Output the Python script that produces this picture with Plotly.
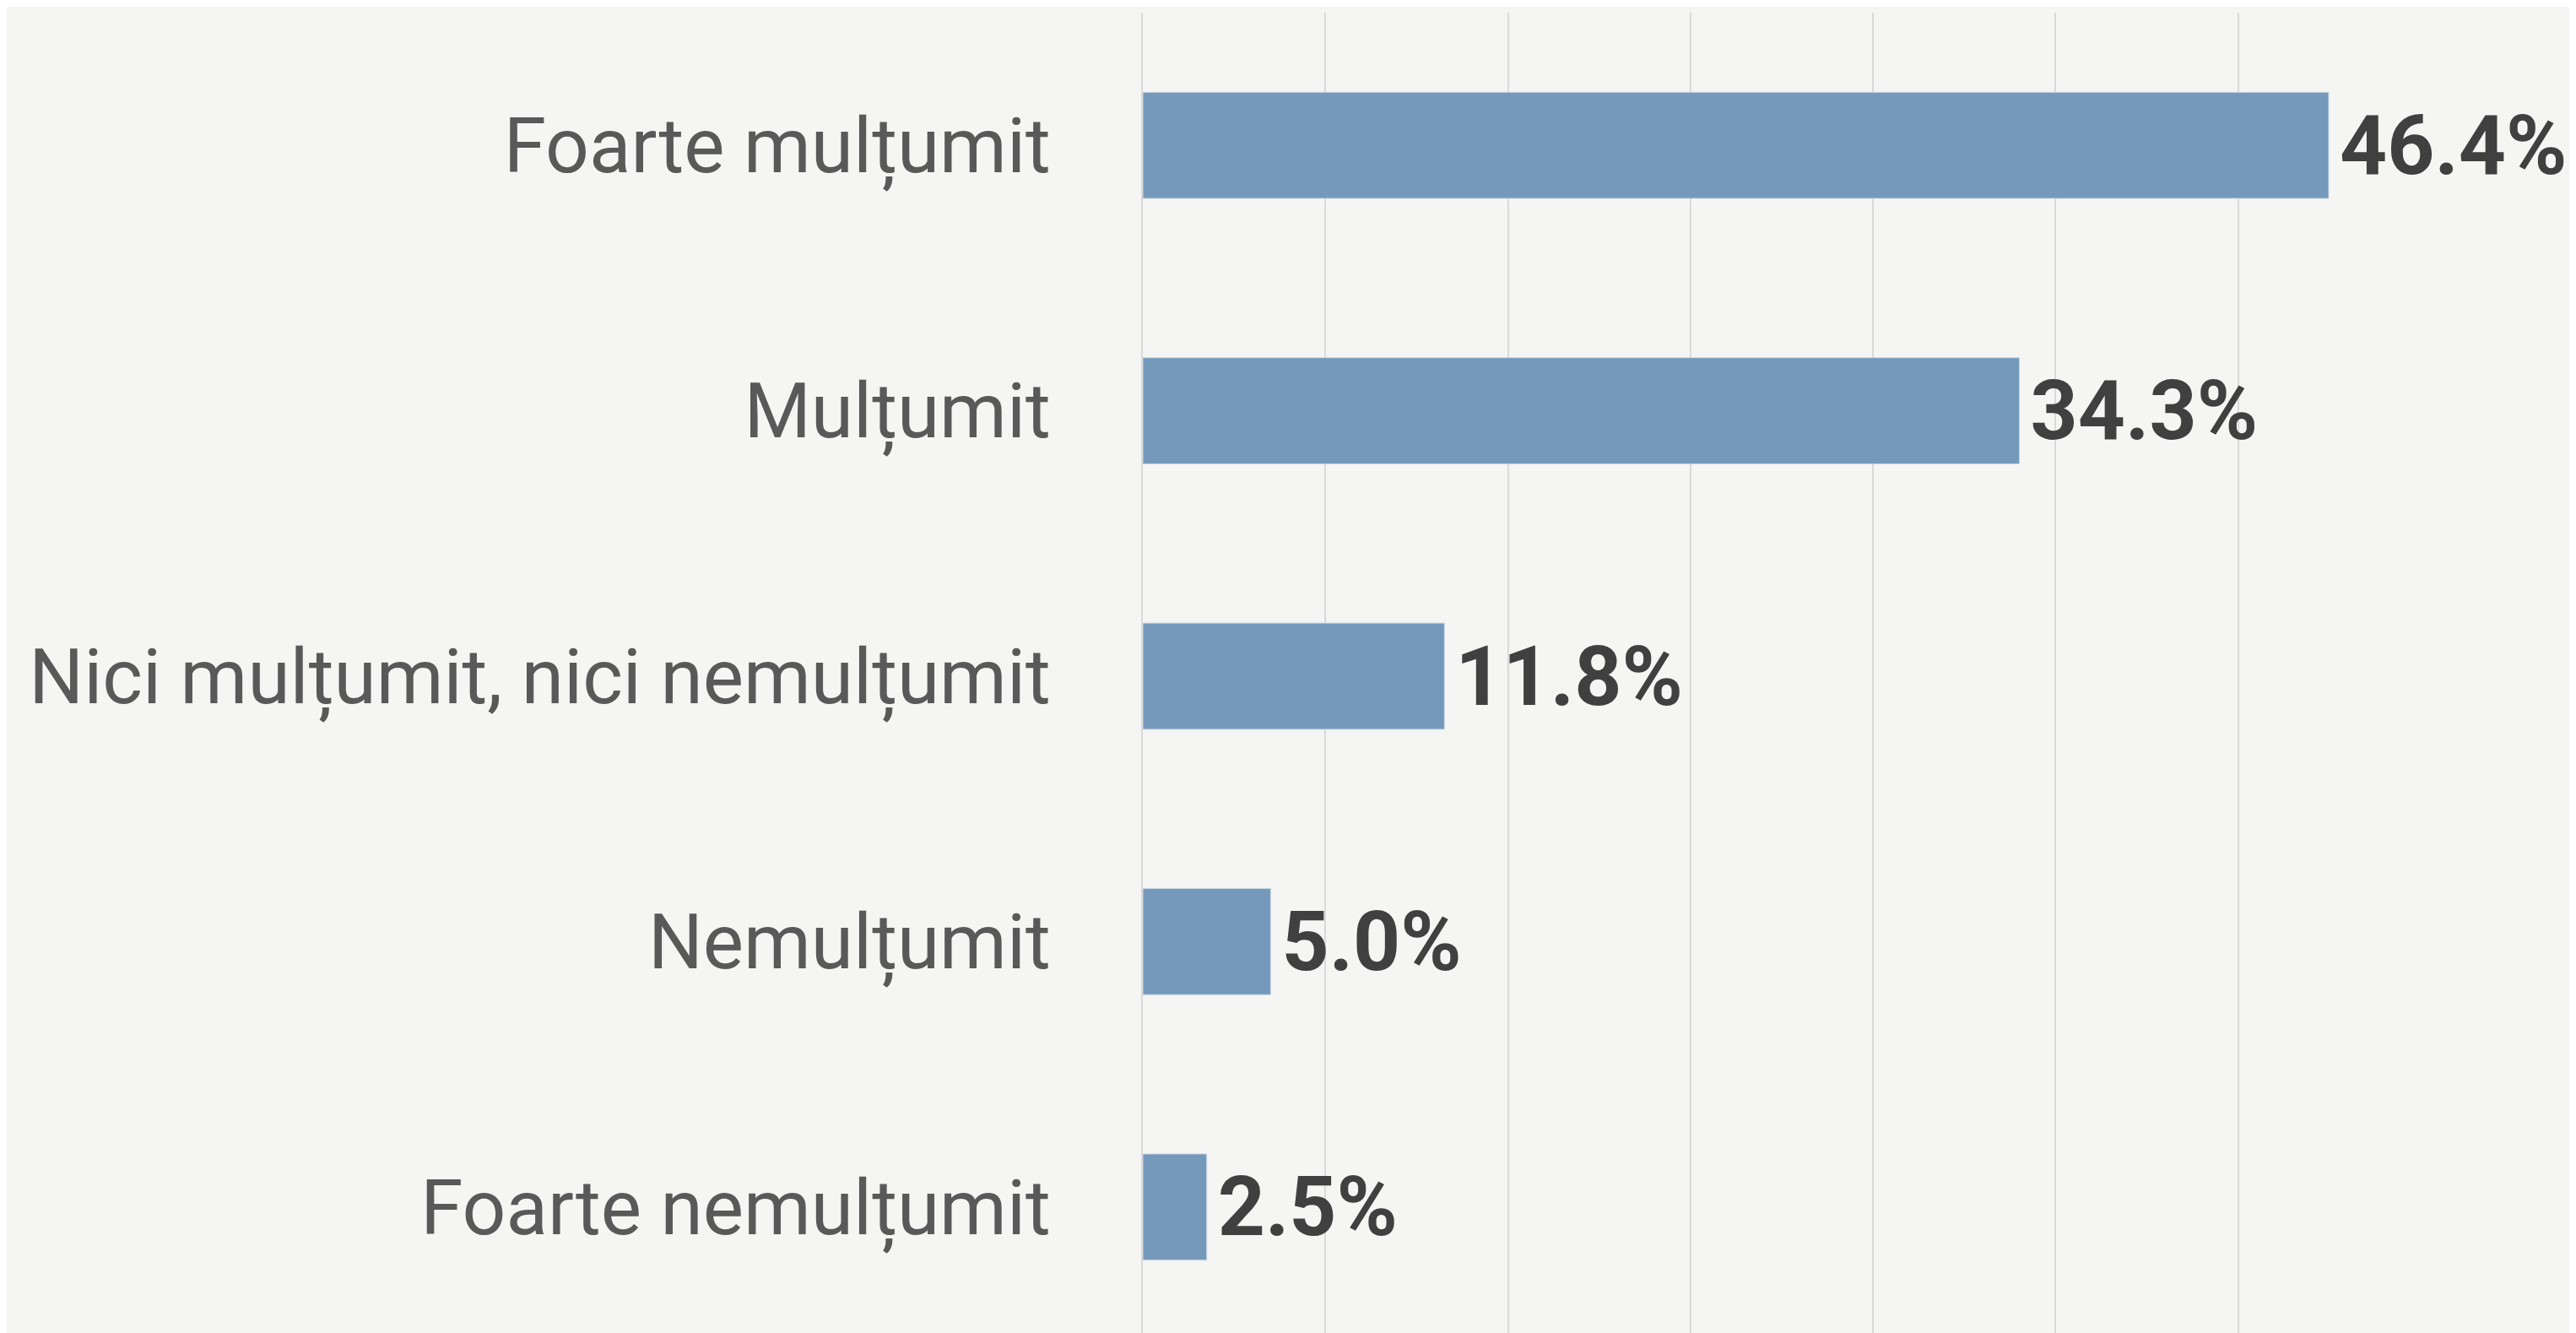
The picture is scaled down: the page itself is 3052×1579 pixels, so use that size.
import plotly.graph_objects as go

categories = ["Foarte mulțumit", "Mulțumit", "Nici mulțumit, nici nemulțumit",
              "Nemulțumit", "Foarte nemulțumit"]
values = [46.4, 34.3, 11.8, 5.0, 2.5]

fig = go.Figure()
fig.add_trace(go.Bar(
    x=values,
    y=categories,
    orientation="h",
    width=0.4,
    marker=dict(color="#7599BB", line=dict(color="#C9D6E3", width=1)),
    texttemplate="\u200a%{x:.1f}%",
    textposition="outside",
    constraintext="none",
    cliponaxis=False,
    textfont=dict(family="Roboto", size=98, color="#404040", weight="bold"),
))

fig.update_layout(
    width=3044,
    height=1579,
    margin=dict(l=1346, r=184, t=7, b=0, autoexpand=False),
    paper_bgcolor="#F5F5F3",
    plot_bgcolor="#F5F5F3",
    showlegend=False,
    xaxis=dict(range=[0, 50.001], tick0=0, dtick=50 / 7, showticklabels=False,
               showgrid=True, gridcolor="#D9D9D9", gridwidth=2,
               zeroline=False, fixedrange=True, automargin=False),
    yaxis=dict(autorange="reversed", showgrid=False, zeroline=False,
               showline=True, linecolor="#D9D9D9", linewidth=2,
               ticklabelstandoff=89, automargin=False,
               tickfont=dict(family="Roboto", size=91, color="#595959")),
)

fig.write_html("out.html")
